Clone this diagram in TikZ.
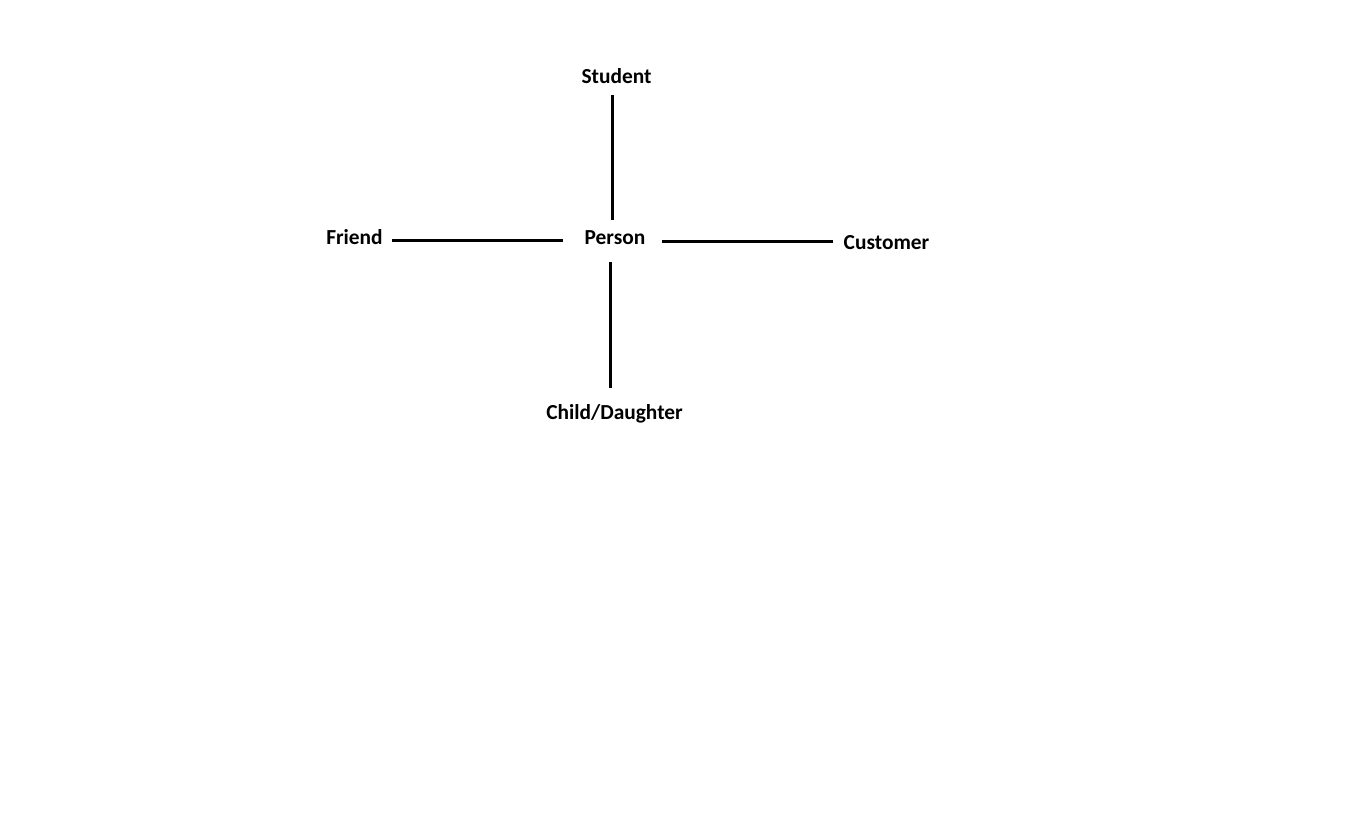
\documentclass[tikz,border=0pt]{standalone}
\usepackage{fontspec}
\setmainfont{Carlito}
\usetikzlibrary{positioning}

\tikzset{
  word/.style={font=\bfseries\fontsize{21.4}{25}\selectfont, inner sep=0pt,
    text height=14pt, text depth=4pt},
  link/.style={line width=3pt}
}

\begin{document}
\begin{tikzpicture}[x=1pt, y=-1pt, on grid]
  \useasboundingbox (0,0) rectangle (1358,831);
  % Define nodes
  \node[word] (person) at (615,239) {Person};
  \node[word, above=161pt of person, xshift=1.5pt] (student) {Student};
  \node[word, left=260.5pt of person] (friend) {Friend};
  \node[word, right=271.5pt of person, yshift=-5pt] (customer) {Customer};
  \node[word, below=175pt of person, xshift=-0.5pt] (child) {Child/Daughter};
  % Define links
  \draw[link, shorten <=8pt, shorten >=10pt]
    ([xshift=-4.5pt]student.south) -- ([xshift=-3pt]person.north);
  \draw[link, shorten <=9.3pt, shorten >=21.3pt]
    ([yshift=-1pt]friend.east) -- ([yshift=-1pt]person.west);
  \draw[link, shorten <=16.3pt, shorten >=10.5pt]
    ([yshift=-2.5pt]person.east) -- ([yshift=2.5pt]customer.west);
  \draw[link, shorten <=14pt, shorten >=17pt]
    ([xshift=-5pt]person.south) -- ([xshift=-4.5pt]child.north);
\end{tikzpicture}
\end{document}
